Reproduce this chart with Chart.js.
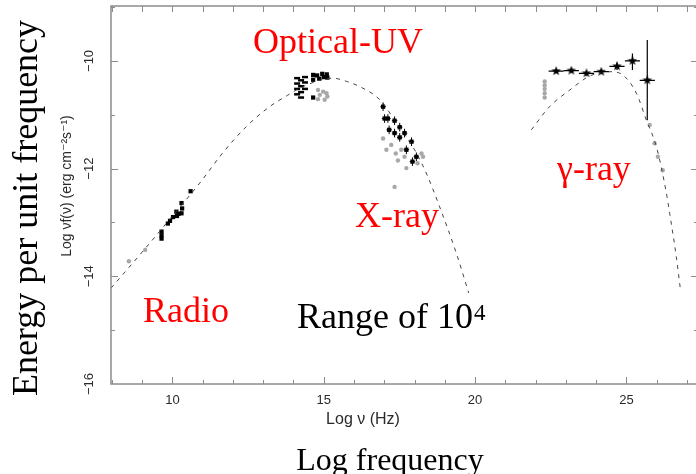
<!DOCTYPE html>
<html>
<head>
<meta charset="utf-8">
<script src="https://cdn.jsdelivr.net/npm/chart.js@4/dist/chart.umd.min.js"></script>
<style>
  html, body { margin: 0; padding: 0; background: #fff; overflow: hidden; }
  #sed { display: block; }
</style>
</head>
<body>
<canvas id="sed" width="696" height="474"></canvas>
<script>
// Model curves (log nu, log nu f(nu))
const synchrotronX = [7.97, 9.0, 10.0, 10.9, 11.66, 12.44, 13.21, 13.8, 14.3, 15.3, 15.75, 16.2, 16.85, 17.4, 18.0, 18.4, 18.83, 19.38, 19.79];
const synchrotronY = [-14.22, -13.55, -12.88, -12.27, -11.71, -11.22, -10.85, -10.64, -10.48, -10.32, -10.38, -10.48, -10.72, -11.15, -11.65, -12.1, -12.71, -13.57, -14.31];
const comptonX = [21.86, 22.46, 23.13, 23.79, 24.45, 24.88, 25.33, 25.66, 25.99, 26.32, 26.43, 26.65, 26.78];
const comptonY = [-11.28, -10.85, -10.54, -10.28, -10.2, -10.26, -10.6, -11.1, -11.59, -12.45, -12.83, -13.64, -14.22];

// Radio
const radioX = [10.6, 10.3, 10.32, 10.3, 10.13, 10.15, 10.02, 9.85, 9.92, 10.2, 9.64, 9.64, 9.64];
const radioY = [-12.42, -12.64, -12.74, -12.83, -12.8, -12.88, -12.9, -13.02, -12.97, -12.84, -13.17, -13.24, -13.3];
const radioGreyX = [9.1, 8.56];
const radioGreyY = [-13.51, -13.72];

// Optical-UV
const opticalDashX = [14.12, 14.12, 14.12, 14.12, 14.25, 14.25, 14.25, 14.25, 14.38, 14.38, 14.38];
const opticalDashY = [-10.32, -10.42, -10.52, -10.62, -10.36, -10.47, -10.58, -10.68, -10.3, -10.4, -10.52];
const opticalX = [14.65, 14.65, 14.78, 14.85, 14.95, 15.0, 15.1, 15.12, 14.65];
const opticalY = [-10.26, -10.35, -10.27, -10.33, -10.24, -10.3, -10.25, -10.31, -10.68];
const opticalGreyX = [14.81, 14.98, 14.87, 15.09, 15.03, 14.81, 15.12];
const opticalGreyY = [-10.54, -10.57, -10.63, -10.6, -10.72, -10.71, -10.66];

// X-ray
const xrayX = [16.96, 17.01, 17.12, 17.34, 17.16, 17.51, 17.34, 17.67, 17.51, 17.9, 17.73, 18.06, 17.93];
const xrayY = [-10.85, -11.07, -11.07, -11.11, -11.28, -11.23, -11.34, -11.34, -11.42, -11.5, -11.65, -11.78, -11.87];
const xrayGreyX = [16.96, 17.07, 17.23, 17.38, 17.56, 17.67, 17.73, 18.23, 18.28, 17.34, 17.45, 18.1];
const xrayGreyY = [-11.44, -11.65, -11.56, -11.72, -11.65, -11.78, -11.99, -11.72, -11.78, -12.34, -11.85, -11.9];

// Gamma-ray
const gammaX = [22.68, 23.18, 23.68, 24.17, 24.69, 25.2, 25.69];
const gammaY = [-10.19, -10.18, -10.23, -10.2, -10.1, -10.0, -10.36];
const gammaYHigh = [-10.15, -10.14, -10.19, -10.16, -10.03, -9.86, -9.61];
const gammaYLow = [-10.23, -10.22, -10.27, -10.24, -10.17, -10.17, -11.1];
const gammaXErr = [0.25, 0.25, 0.25, 0.25, 0.25, 0.25, 0.25];
const gammaGreyX = [22.3, 22.3, 22.3, 22.3, 22.3, 25.77, 25.93, 26.04, 26.2];
const gammaGreyY = [-10.38, -10.45, -10.52, -10.6, -10.68, -11.19, -11.53, -11.78, -12.03];

// Axes
const xMin = 7.97, xMax = 27.3;
const yMin = -16, yMax = -8.98;
const xTickValues = [10, 15, 20, 25];
const yTickValues = [-16, -14, -12, -10];

const SERIF = '"Liberation Serif", "Times New Roman", "DejaVu Serif", serif';
const SANS = '"Liberation Sans", Arial, "DejaVu Sans", sans-serif';

const toPoints = (xs, ys) => xs.map((x, i) => ({ x, y: ys[i] }));

// filled star used for the gamma-ray points
function makeStar(size) {
    const c = document.createElement('canvas');
    c.width = size;
    c.height = size;
    const g = c.getContext('2d');
    const r = size / 2, ri = r * 0.42;
    g.beginPath();
    for (let i = 0; i < 10; i++) {
        const a = -Math.PI / 2 + i * Math.PI / 5;
        const rr = i % 2 ? ri : r;
        g.lineTo(r + rr * Math.cos(a), r + rr * Math.sin(a));
    }
    g.closePath();
    g.fillStyle = '#000';
    g.fill();
    return c;
}

const curveStyle = {
    showLine: true,
    borderColor: '#444',
    borderWidth: 1,
    borderDash: [4, 5],
    pointRadius: 0,
    cubicInterpolationMode: 'monotone',
    fill: false
};

const blackRect = { pointStyle: 'rect', pointRadius: 3, backgroundColor: '#000', borderColor: '#000', borderWidth: 0 };
const greyDot = { pointStyle: 'circle', pointRadius: 2.2, backgroundColor: '#a8a8a8', borderColor: '#a8a8a8', borderWidth: 0 };

// error bars for gamma-ray points and small crosses on X-ray points
const errorBars = {
    id: 'errorBars',
    afterDatasetsDraw(chart) {
        const { ctx, scales: { x, y } } = chart;
        ctx.save();
        ctx.strokeStyle = '#000';
        ctx.lineWidth = 1.2;
        gammaX.forEach((v, i) => {
            const px = x.getPixelForValue(v);
            const py = y.getPixelForValue(gammaY[i]);
            ctx.beginPath();
            ctx.moveTo(x.getPixelForValue(v - gammaXErr[i]), py);
            ctx.lineTo(x.getPixelForValue(v + gammaXErr[i]), py);
            ctx.moveTo(px, y.getPixelForValue(gammaYHigh[i]));
            ctx.lineTo(px, y.getPixelForValue(gammaYLow[i]));
            ctx.stroke();
        });
        ctx.lineWidth = 1;
        xrayX.forEach((v, i) => {
            const px = x.getPixelForValue(v);
            const py = y.getPixelForValue(xrayY[i]);
            ctx.beginPath();
            ctx.moveTo(x.getPixelForValue(v - 0.09), py);
            ctx.lineTo(x.getPixelForValue(v + 0.09), py);
            ctx.moveTo(px, y.getPixelForValue(xrayY[i] + 0.08));
            ctx.lineTo(px, y.getPixelForValue(xrayY[i] - 0.08));
            ctx.stroke();
        });
        ctx.restore();
    }
};

// frame with inward ticks, tick labels, titles and band annotations
const frame = {
    id: 'frame',
    afterDraw(chart) {
        const { ctx, chartArea: a, scales: { x, y } } = chart;
        const right = a.right + 2; // right border sits just past the window edge
        ctx.save();

        ctx.strokeStyle = '#8c8c8c';
        ctx.lineWidth = 1.5;
        ctx.strokeRect(a.left, a.top, right - a.left, a.bottom - a.top);

        ctx.lineWidth = 1;
        ctx.beginPath();
        for (let v = Math.ceil(xMin); v <= xMax; v++) {
            const px = Math.round(x.getPixelForValue(v)) + 0.5;
            const len = xTickValues.includes(v) ? 7 : 4;
            ctx.moveTo(px, a.bottom); ctx.lineTo(px, a.bottom - len);
            ctx.moveTo(px, a.top); ctx.lineTo(px, a.top + 6);
        }
        for (let v = yMin + 1; v <= yMax; v++) {
            const py = Math.round(y.getPixelForValue(v)) + 0.5;
            const len = yTickValues.includes(v) ? 7 : 4;
            ctx.moveTo(a.left, py); ctx.lineTo(a.left + len, py);
            ctx.moveTo(right, py); ctx.lineTo(right - len, py);
        }
        ctx.stroke();

        // tick labels
        ctx.fillStyle = '#2a2a2a';
        ctx.font = '13px ' + SANS;
        ctx.textAlign = 'center';
        ctx.textBaseline = 'alphabetic';
        xTickValues.forEach(v => ctx.fillText(String(v), x.getPixelForValue(v), 404));
        yTickValues.forEach(v => {
            ctx.save();
            ctx.translate(93, y.getPixelForValue(v));
            ctx.rotate(-Math.PI / 2);
            ctx.fillText('\u2212' + Math.abs(v), 0, 0);
            ctx.restore();
        });

        // small axis titles
        ctx.font = '16px ' + SANS;
        ctx.fillText('Log \u03bd (Hz)', 363, 424);
        ctx.save();
        ctx.translate(71, 186);
        ctx.rotate(-Math.PI / 2);
        ctx.font = '14px ' + SANS;
        ctx.fillText('Log \u03bdf(\u03bd) (erg cm\u207b\u00b2s\u207b\u00b9)', 0, 0);
        ctx.restore();

        // large titles
        ctx.fillStyle = '#000';
        ctx.font = '32px ' + SERIF;
        ctx.fillText('Log frequency', 390, 470);
        ctx.save();
        ctx.translate(37, 208);
        ctx.rotate(-Math.PI / 2);
        ctx.font = '36px ' + SERIF;
        ctx.fillText('Energy per unit frequency', 0, 0);
        ctx.restore();

        // band annotations
        ctx.textAlign = 'left';
        ctx.font = '36px ' + SERIF;
        ctx.fillStyle = '#f00';
        ctx.fillText('Optical-UV', 253, 53);
        ctx.fillText('X-ray', 355, 227);
        ctx.fillText('Radio', 143, 322);
        ctx.fillText('\u03b3-ray', 557, 180);
        ctx.fillStyle = '#000';
        ctx.fillText('Range of 10', 297, 328);
        const w = ctx.measureText('Range of 10').width;
        ctx.font = '23px ' + SERIF;
        ctx.fillText('4', 297 + w + 1, 320);

        ctx.restore();
    }
};

new Chart(document.getElementById('sed'), {
    type: 'scatter',
    data: {
        datasets: [
            { data: toPoints(synchrotronX, synchrotronY), ...curveStyle },
            { data: toPoints(comptonX, comptonY), ...curveStyle },
            { data: toPoints(radioGreyX, radioGreyY), ...greyDot },
            { data: toPoints(opticalGreyX, opticalGreyY), ...greyDot },
            { data: toPoints(xrayGreyX, xrayGreyY), ...greyDot },
            { data: toPoints(gammaGreyX, gammaGreyY), ...greyDot },
            { data: toPoints(radioX, radioY), ...blackRect },
            { data: toPoints(opticalX, opticalY), ...blackRect },
            { data: toPoints(xrayX, xrayY), ...blackRect },
            {
                data: toPoints(opticalDashX, opticalDashY),
                pointStyle: 'line', pointRadius: 3, borderWidth: 2.5, borderColor: '#000'
            },
            {
                data: toPoints(gammaX, gammaY),
                pointStyle: makeStar(10), pointRadius: 5
            }
        ]
    },
    options: {
        responsive: false,
        animation: false,
        devicePixelRatio: 1,
        layout: { autoPadding: false, padding: { left: 111, right: 0, top: 6, bottom: 90 } },
        plugins: { legend: { display: false }, tooltip: { enabled: false } },
        scales: {
            x: { type: 'linear', min: xMin, max: xMax, display: false },
            y: { type: 'linear', min: yMin, max: yMax, display: false }
        }
    },
    plugins: [errorBars, frame]
});
</script>
</body>
</html>
